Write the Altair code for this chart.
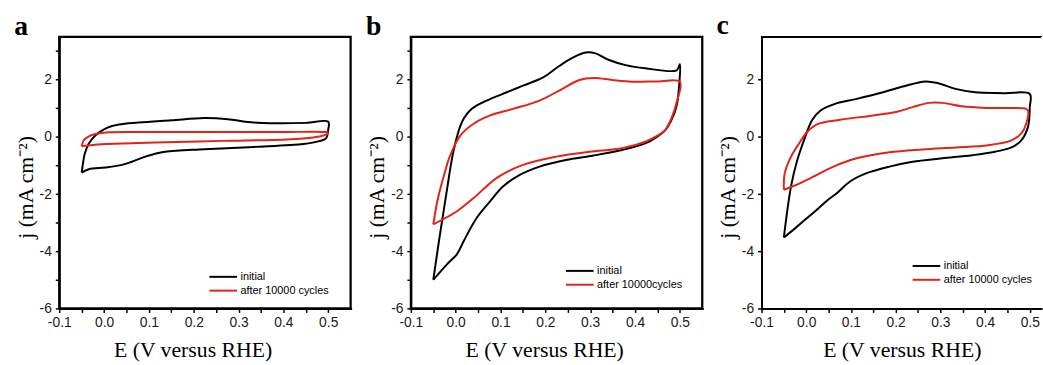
import altair as alt
import pandas as pd

# ---------------- data ----------------
# Panel a
A_INIT_E = [-0.05, -0.047, -0.043, -0.034, -0.019, 0.003, 0.033, 0.077, 0.15, 0.224, 0.276, 0.32, 0.371, 0.45, 0.5,
            0.5, 0.495, 0.48, 0.445, 0.334, 0.224, 0.136, 0.092, 0.062, 0.04, 0.003, -0.034, -0.05]
A_INIT_J = [-1.25, -0.92, -0.58, -0.23, 0.06, 0.29, 0.43, 0.50, 0.58, 0.66, 0.62, 0.52, 0.48, 0.49, 0.53,
            0.25, -0.05, -0.15, -0.25, -0.35, -0.43, -0.52, -0.69, -0.87, -0.98, -1.07, -1.13, -1.25]
A_AFTER_E = [-0.05, -0.045, -0.034, -0.019, 0.01, 0.1, 0.25, 0.4, 0.495, 0.5,
             0.492, 0.467, 0.408, 0.26, 0.113, 0.003, -0.035, -0.05]
A_AFTER_J = [-0.33, -0.11, 0.02, 0.10, 0.16, 0.17, 0.17, 0.17, 0.17, 0.15,
             0.06, -0.02, -0.09, -0.14, -0.20, -0.25, -0.30, -0.33]

# Panel b
B_INIT_E = [-0.05, -0.035, -0.02, -0.005, 0.014, 0.036, 0.069, 0.114, 0.15, 0.195, 0.231, 0.261, 0.29, 0.312, 0.342,
            0.379, 0.423, 0.493, 0.5,
            0.499, 0.493, 0.481, 0.467, 0.449, 0.423, 0.371, 0.305, 0.246, 0.187, 0.143, 0.106, 0.077, 0.047, 0.018,
            0.003, -0.019, -0.05]
B_INIT_J = [-5.0, -3.4, -1.9, -0.5, 0.52, 0.98, 1.27, 1.56, 1.79, 2.08, 2.48, 2.77, 2.95, 2.92, 2.69,
            2.51, 2.40, 2.33, 2.54,
            1.9, 1.1, 0.58, 0.23, 0.0, -0.23, -0.46, -0.66, -0.81, -1.04, -1.33, -1.73, -2.25, -2.83, -3.64,
            -4.10, -4.45, -5.0]
B_AFTER_E = [-0.05, -0.041, -0.026, -0.012, 0.011, 0.04, 0.077, 0.128, 0.187, 0.231, 0.276, 0.309, 0.349, 0.393,
             0.452, 0.5,
             0.493, 0.481, 0.467, 0.452, 0.423, 0.371, 0.298, 0.224, 0.15, 0.091, 0.04, 0.003, -0.05]
B_AFTER_J = [-3.06, -2.25, -1.33, -0.64, 0.06, 0.46, 0.75, 0.98, 1.27, 1.62, 1.99, 2.06, 1.99, 1.93,
             1.94, 1.93,
             1.21, 0.64, 0.23, 0.06, -0.17, -0.40, -0.52, -0.69, -0.98, -1.44, -2.14, -2.6, -3.06]

# Panel c
C_INIT_E = [-0.05, -0.045, -0.034, -0.02, -0.005, 0.013, 0.032, 0.069, 0.113, 0.172, 0.216, 0.267, 0.297, 0.334,
            0.378, 0.444, 0.5,
            0.5, 0.496, 0.481, 0.459, 0.422, 0.371, 0.304, 0.238, 0.186, 0.135, 0.098, 0.069, 0.045, 0.02, -0.002,
            -0.025, -0.05]
C_INIT_J = [-3.52, -2.89, -1.73, -0.81, -0.12, 0.58, 0.92, 1.18, 1.33, 1.56, 1.76, 1.94, 1.87, 1.68,
            1.56, 1.53, 1.50,
            1.04, 0.35, -0.12, -0.37, -0.52, -0.64, -0.75, -0.87, -1.04, -1.27, -1.56, -1.96, -2.25, -2.6, -2.89,
            -3.2, -3.52]
C_AFTER_E = [-0.05, -0.048, -0.034, -0.016, 0.002, 0.024, 0.076, 0.15, 0.201, 0.238, 0.275, 0.304, 0.348, 0.407,
             0.492, 0.496,
             0.492, 0.481, 0.459, 0.407, 0.334, 0.26, 0.186, 0.113, 0.061, 0.01, -0.027, -0.05]
C_AFTER_J = [-1.85, -1.27, -0.69, -0.23, 0.17, 0.44, 0.60, 0.75, 0.87, 1.04, 1.19, 1.19, 1.07, 1.01,
             0.98, 0.92,
             0.46, 0.12, -0.12, -0.29, -0.37, -0.44, -0.54, -0.75, -1.04, -1.44, -1.71, -1.85]

LABELS_A = ["initial", "after 10000 cycles"]
LABELS_B = ["initial", "after 10000cycles"]
LABELS_C = ["initial", "after 10000 cycles"]

X_TICKS = [-0.1, -0.05, 0.0, 0.05, 0.1, 0.15, 0.2, 0.25, 0.3, 0.35, 0.4, 0.45, 0.5]
Y_TICKS = [-6, -5, -4, -3, -2, -1, 0, 1, 2, 3]
Y_MAX = 3.5

BLACK = "#000000"
RED = "#e2231a"


def frame(labels, init_e, init_j, after_e, after_j):
    rows = []
    for name, es, js in ((labels[0], init_e, init_j), (labels[1], after_e, after_j)):
        for i, (e, j) in enumerate(zip(es, js)):
            rows.append({"E": e, "j": j, "series": name, "idx": i})
    return pd.DataFrame(rows)


X_LABEL_EXPR = ("abs(round(datum.value * 20)) % 2 == 0 ? "
                "replace(format(datum.value, '.1f'), '\u2212', '-') : ''")
Y_LABEL_EXPR = "datum.value % 2 == 0 ? '' + datum.value : ''"


def panel(letter, df, labels, x_max, width, leg_x, leg_y, title_x, boxed=True):
    xs = alt.Scale(domain=[-0.1, x_max], nice=False, zero=False)
    ys = alt.Scale(domain=[-6, Y_MAX], nice=False, zero=False)

    lines = alt.Chart(df).mark_line(strokeWidth=2, interpolate="catmull-rom").encode(
        x=alt.X("E:Q", scale=xs, axis=alt.Axis(
            orient="bottom", values=X_TICKS, labelExpr=X_LABEL_EXPR, labelOverlap=False,
            title="E (V versus RHE)", titleX=title_x, titleY=49, titleBaseline="alphabetic",
            labelPadding=3)),
        y=alt.Y("j:Q", scale=ys, axis=alt.Axis(
            orient="left", values=Y_TICKS, labelExpr=Y_LABEL_EXPR, labelOverlap=False,
            title="j (mA cm\u207b\u00b2)", titleY=152, titlePadding=2, labelPadding=4)),
        color=alt.Color("series:N", scale=alt.Scale(domain=labels, range=[BLACK, RED]),
                        legend=alt.Legend(orient="none", legendX=leg_x, legendY=leg_y, title=None,
                                          symbolType="M-2,0H2", symbolSize=196, symbolStrokeWidth=2,
                                          labelFont="Liberation Sans", labelFontSize=11,
                                          labelColor="black", labelOffset=9.5, rowPadding=1,
                                          padding=0)),
        order=alt.Order("idx:Q"),
    )

    if boxed:
        chart = lines.properties(
            view=alt.ViewBackground(stroke=BLACK, strokeWidth=2.3))
    else:
        top = alt.Chart(df).mark_rule(color=BLACK, strokeWidth=1.7).encode(
            y=alt.datum(Y_MAX, scale=ys))
        chart = alt.layer(lines, top).properties(
            view=alt.ViewBackground(stroke="transparent"))

    return chart.properties(
        width=width, height=275,
        title=alt.Title(letter, anchor="start", frame="bounds", font="Liberation Serif", fontSize=28,
                        fontWeight="bold", offset=0, dy=4, color="black"),
    )


pa = panel("a", frame(LABELS_A, A_INIT_E, A_INIT_J, A_AFTER_E, A_AFTER_J), LABELS_A,
           0.55, 295, 158, 235, 135)
pb = panel("b", frame(LABELS_B, B_INIT_E, B_INIT_J, B_AFTER_E, B_AFTER_J), LABELS_B,
           0.55, 295, 163, 229, 135)
pc = panel("c", frame(LABELS_C, C_INIT_E, C_INIT_J, C_AFTER_E, C_AFTER_J), LABELS_C,
           -0.1 + 283 / 452.7, 283, 159, 224, 142, boxed=False)

chart = alt.hconcat(pa, pb, pc, spacing=12).resolve_scale(color="independent").resolve_legend(
    color="independent"
).properties(
    padding={"left": 13, "top": 9, "right": 0, "bottom": 0}
).configure_axis(
    domainColor=BLACK, domainWidth=2, domainCap="square",
    tickColor=BLACK, tickWidth=1.5, tickSize=4,
    labelFont="Liberation Sans", labelFontSize=14, labelColor="#1a1a1a", labelFlush=False,
    titleFont="Liberation Serif", titleFontSize=22, titleFontWeight="normal", titleColor=BLACK,
    grid=False,
)

chart.save("out.html", embed_options={"renderer": "svg", "actions": False})
